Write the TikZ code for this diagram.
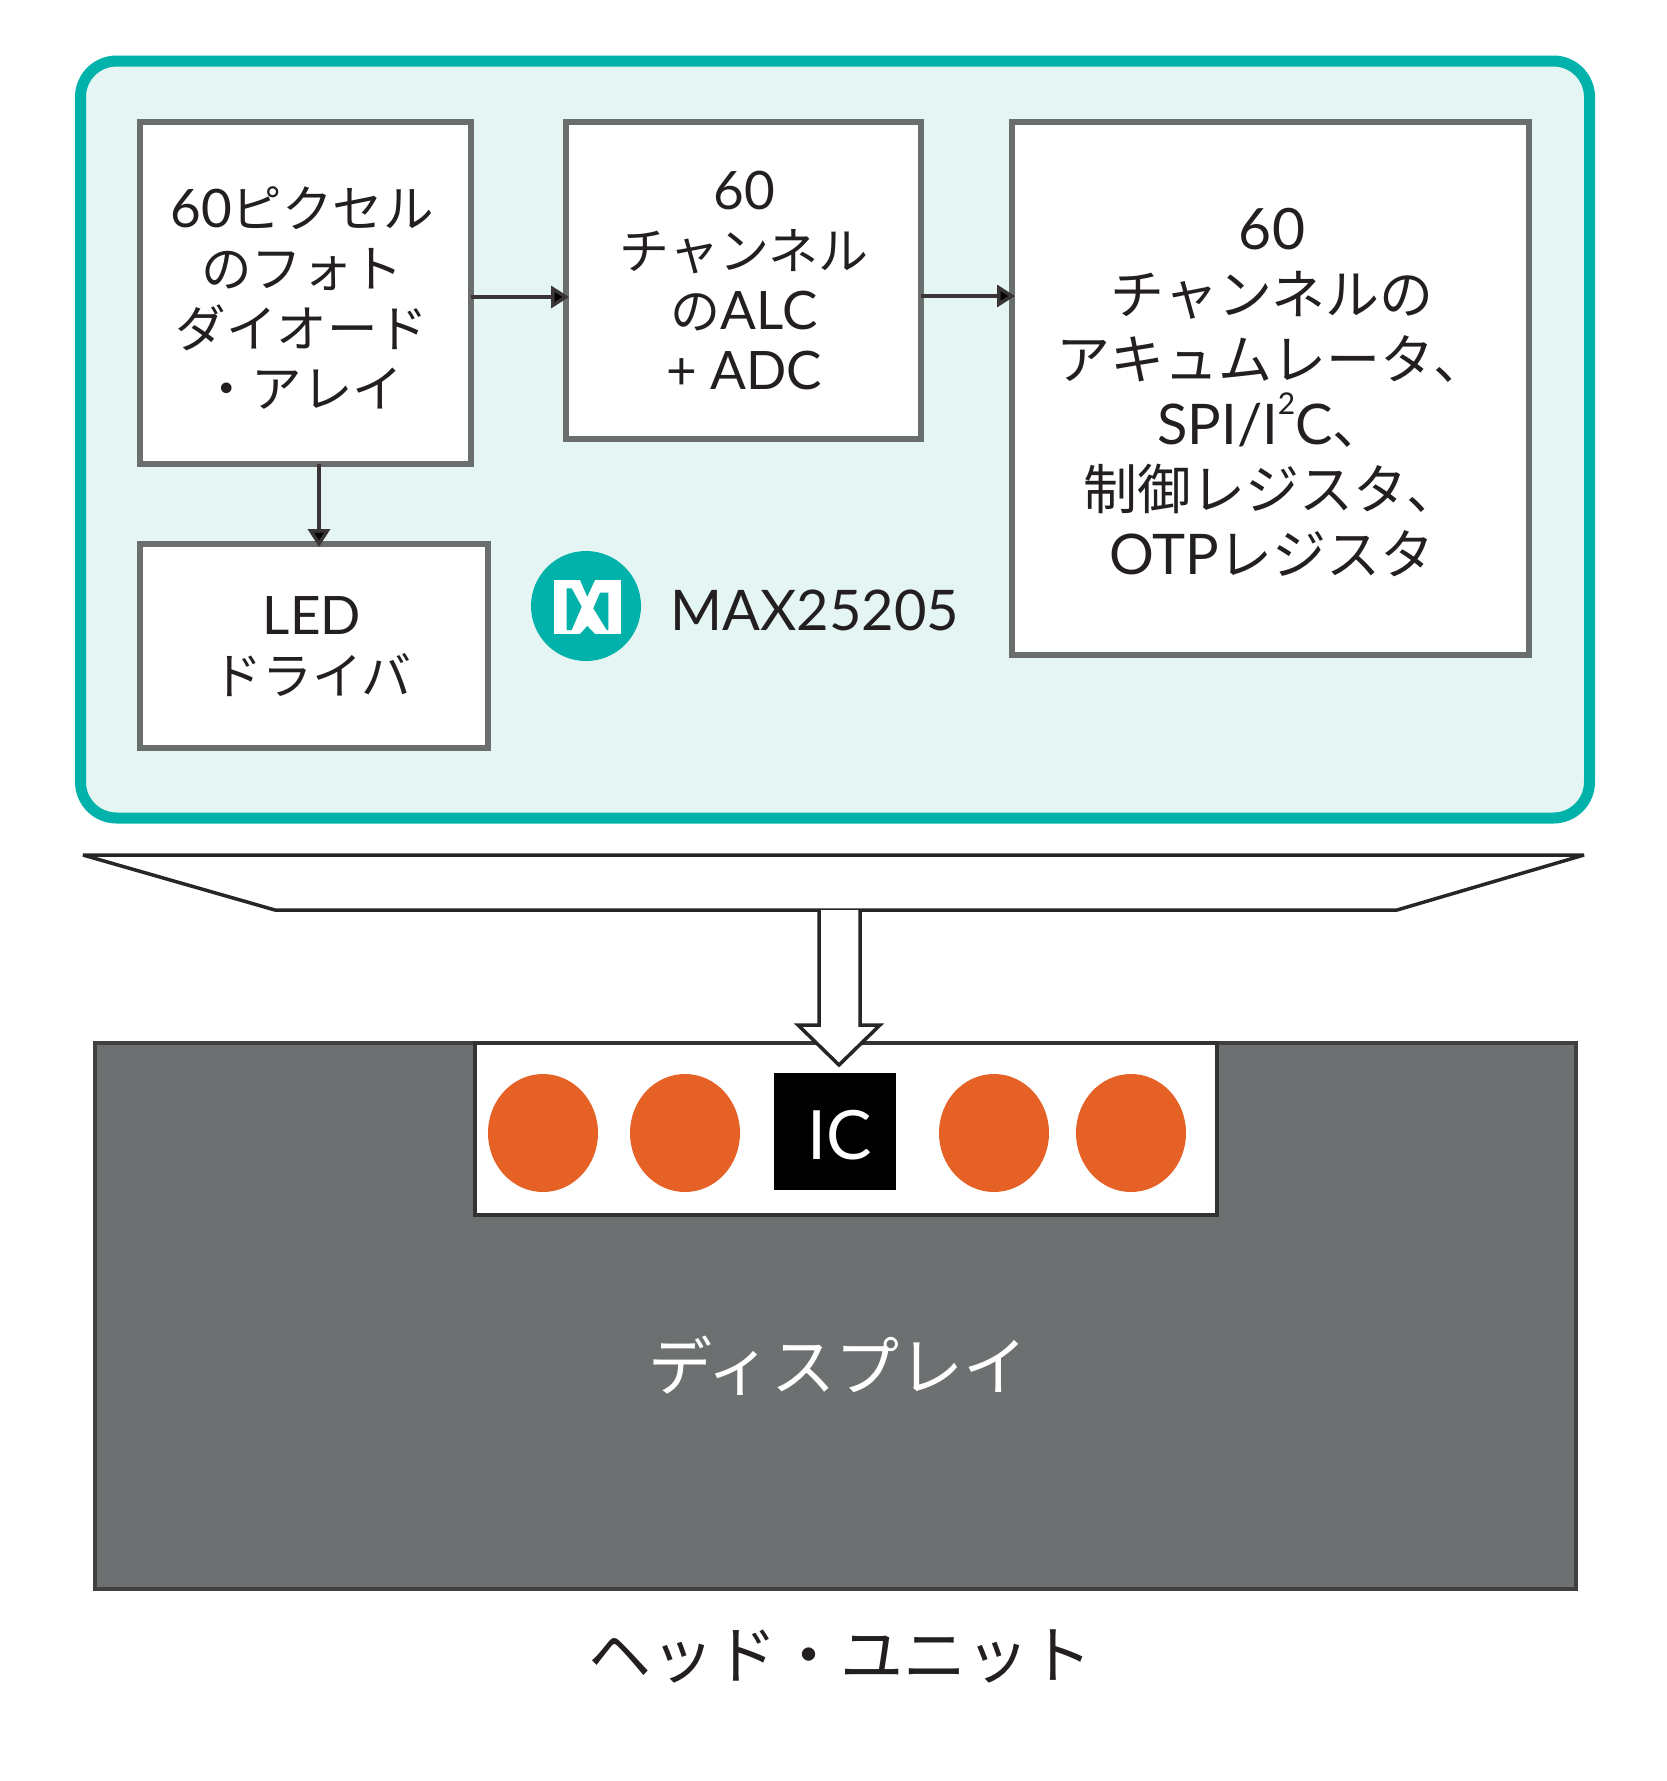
\documentclass[tikz,border=0pt]{standalone}
\usepackage{fontspec}
\setmainfont{Noto Sans CJK JP}
\newfontfamily\lat{Lato}
\usetikzlibrary{arrows.meta,shapes.geometric}
\definecolor{teal0}{HTML}{00B2A9}
\definecolor{bg0}{HTML}{E5F5F3}
\definecolor{org0}{HTML}{E66125}
\definecolor{gray0}{HTML}{6D7070}
\definecolor{txt0}{HTML}{231F20}
\definecolor{bord0}{HTML}{6A6F6E}
\tikzset{
  boxa/.style={draw=bord0,fill=white,line width=6.5pt,rectangle,inner sep=0pt,outer sep=0pt},
  lbl/.style={align=center,inner sep=0pt,text=txt0},
  conn/.style={draw=txt0!90!white,line width=3.5pt,-{Triangle[length=18pt,width=22pt,fill=black]},shorten >=-3pt},
  dot/.style={ellipse,fill=org0,inner sep=0pt,minimum width=110pt,minimum height=118pt},
}
\begin{document}
\begin{tikzpicture}[x=1pt,y=-1pt]
\useasboundingbox (0,0) rectangle (1667,1781);
% panel
\node[draw=teal0,fill=bg0,line width=11pt,rounded corners=36pt,minimum width=1509pt,minimum height=757pt,inner sep=0pt,outer sep=0pt] (panel) at (835,439.5) {};
% boxes
\node[boxa,minimum width=331pt,minimum height=342pt] (b1) at (305.5,293) {};
\node[boxa,minimum width=355pt,minimum height=317pt] (b2) at (743.5,280.5) {};
\node[boxa,minimum width=517pt,minimum height=533pt] (b3) at (1270.5,388.5) {};
\node[boxa,minimum width=348pt,minimum height=204pt] (led) at (314,646) {};
\node[lbl,font=\fontsize{50.5}{60}\selectfont] (t1) at (302,298) {{\lat\fontsize{53}{60}\selectfont 60}ピクセル\\のフォト\\ダイオード\\・アレイ};
\node[lbl,font=\fontsize{50}{60}\selectfont] (t2) at (744,281) {{\lat\fontsize{53}{60}\selectfont 60}\\チャンネル\\の{\lat\fontsize{53}{60}\selectfont ALC}\\{\lat\fontsize{53}{60}\selectfont + ADC}};
\node[lbl,font=\fontsize{54}{65}\selectfont] (t3) at (1272,393) {{\lat\fontsize{57}{65}\selectfont 60}\\チャンネルの\\アキュムレータ、\\{\lat\fontsize{56}{65}\selectfont SPI/I\raisebox{.55em}{\fontsize{30}{30}\selectfont 2}C}、\\制御レジスタ、\\{\lat\fontsize{56}{65}\selectfont OTP}レジスタ};
\node[lbl,font=\fontsize{50}{60}\selectfont] (t4) at (312,647) {{\lat\fontsize{53}{60}\selectfont LED}\\ドライバ};
% connectors
\draw[conn] ([yshift=-4pt]b1.east) -- ([yshift=-4pt]b1.east -| b2.west);
\draw[conn] ([yshift=-15.5pt]b2.east) -- ([yshift=-15.5pt]b2.east -| b3.west);
\draw[conn] ([xshift=13.5pt]b1.south) -- ([xshift=13.5pt]b1.south |- led.north);
% logo
\node[circle,fill=teal0,minimum size=110pt,inner sep=0pt] (logo) at (586,606) {};
\node[fill=white,minimum width=67pt,minimum height=54pt,inner sep=0pt] (mk) at (587.5,607) {};
\fill[teal0] (566.7,588.3) -- (571.7,588.3) -- (581.7,606.7) -- (571.7,630) -- (566.7,630) -- cycle;
\fill[teal0] (608.3,592.7) -- (600,592.7) -- (593.3,608.3) -- (606.7,630) -- (608.3,630) -- cycle;
\fill[teal0] (580,580) -- (595,580) -- (587.3,596.7) -- cycle;
\fill[teal0] (580,634) -- (595,634) -- (587.3,626) -- cycle;
\node[lbl,font=\fontsize{56}{60}\selectfont\lat] (part) at (815,610) {MAX25205};
% trapezoid
\draw[draw=black!85,line width=3.5pt,line join=bevel] (83,855) -- (1584,855) -- (1397,910) -- (275,910) -- cycle;
% display
\node[draw=black!75,fill=gray0,line width=4pt,minimum width=1481pt,minimum height=546pt,inner sep=0pt,outer sep=0pt] (disp) at (835.5,1316) {};
\node[draw=black!80,fill=white,line width=4pt,minimum width=742pt,minimum height=172pt,inner sep=0pt,outer sep=0pt] (notch) at (846,1129) {};
\node[dot] (c1) at (543,1133) {};
\node[dot] (c2) at (685,1133) {};
\node[dot] (c3) at (994,1133) {};
\node[dot] (c4) at (1131,1133) {};
\node[fill=black,minimum width=122pt,minimum height=117pt,inner sep=0pt] (ic) at (835,1131.5) {};
\node[inner sep=0pt,text=white,font=\fontsize{68}{70}\selectfont\lat] (ict) at (840,1135) {IC};
\node[inner sep=0pt,text=white,font=\fontsize{64}{70}\selectfont] (dt) at (838,1366) {ディスプレイ};
\node[lbl,font=\fontsize{63}{70}\selectfont] (hu) at (840,1656) {ヘッド・ユニット};
% hollow arrow
\draw[draw=black!85,fill=white,line width=3.5pt,line join=miter] (819,910) -- (819,1025) -- (798,1025) -- (839,1065) -- (880,1025) -- (860,1025) -- (860,910);
\end{tikzpicture}
\end{document}
